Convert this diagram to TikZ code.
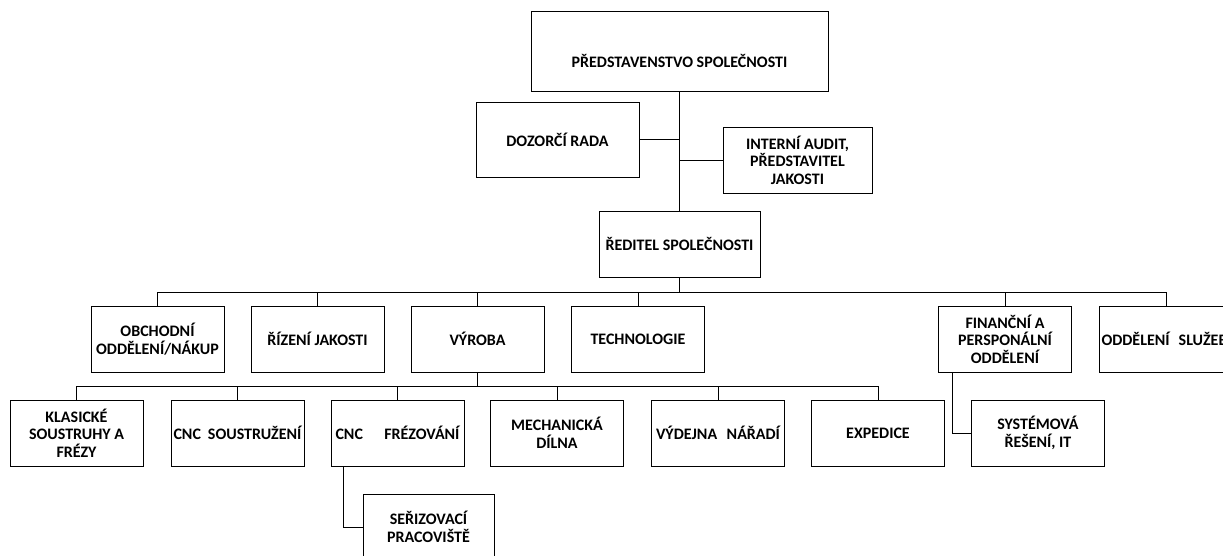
\documentclass[tikz,border=0pt]{standalone}
\usepackage{fontspec}
\setmainfont{Carlito}
\usetikzlibrary{calc}
\tikzset{
  orgbox/.style={draw,line width=0.9pt,minimum width=133pt,minimum height=66pt,inner sep=1pt,align=center},
  orgline/.style={line width=0.8pt}
}
\begin{document}
\begin{tikzpicture}[x=1pt,y=-1pt,font=\fontsize{16}{17.5}\selectfont\bfseries]
                \useasboundingbox (0,0) rectangle (1223,555);
                \node[orgbox,minimum width=297pt,minimum height=80pt,label={[yshift=-10pt]center:PŘEDSTAVENSTVO SPOLEČNOSTI}] (board) at (679.5,51) {};
                \node[orgbox,minimum width=163pt,minimum height=75pt] (dozor) at (557.5,139.5) {DOZORČÍ RADA};
                \node[orgbox,minimum width=149pt] (audit) at (797.5,160) {INTERNÍ AUDIT,\\PŘEDSTAVITEL\\JAKOSTI};
                \node[orgbox,minimum width=161pt] (reditel) at (679.5,244) {ŘEDITEL SPOLEČNOSTI};
                \coordinate (bus2) at (679.5,292);
                \coordinate (bus3) at (477.5,386);
                \node[orgbox] (obchod) at (157.5,339) {OBCHODNÍ\\ODDĚLENÍ/NÁKUP};
                \node[orgbox] (rizeni) at (317.5,339) {ŘÍZENÍ JAKOSTI};
                \node[orgbox] (vyroba) at (477.5,339) {VÝROBA};
                \node[orgbox] (techno) at (638,339) {TECHNOLOGIE};
                \node[orgbox] (financni) at (1005,339) {FINANČNÍ A\\PERSPONÁLNÍ\\ODDĚLENÍ};
                \node[orgbox,align=left,text width=129pt] (sluzby) at (1166,339) {\mbox{ODDĚLENÍ\hspace{9pt}SLUŽEB}};
                \node[orgbox] (klasicke) at (76.5,433) {KLASICKÉ\\SOUSTRUHY A\\FRÉZY};
                \node[orgbox] (cncsoustr) at (237.5,433) {CNC\hspace{7pt}SOUSTRUŽENÍ};
                \node[orgbox] (cncfrez) at (397.5,433) {\makebox[124pt]{CNC\hfill FRÉZOVÁNÍ}};
                \node[orgbox] (mechan) at (557,433) {MECHANICKÁ\\DÍLNA};
                \node[orgbox] (vydejna) at (718,433) {\makebox[124pt]{VÝDEJNA\hfill NÁŘADÍ}};
                \node[orgbox] (expedice) at (878,433) {EXPEDICE};
                \node[orgbox] (system) at (1038,433) {SYSTÉMOVÁ\\ŘEŠENÍ, IT};
                \node[orgbox,minimum width=131pt] (serizovaci) at (428.5,527) {SEŘIZOVACÍ\\PRACOVIŠTĚ};
                \draw[orgline] (board.south) -- (reditel.north);
                \draw[orgline] (dozor.east) -- (dozor.east -| board.south);
                \draw[orgline] (audit.west) -- (audit.west -| board.south);
                \draw[orgline] (reditel.south) -- (bus2);
                \foreach \n in {obchod,rizeni,vyroba,techno,financni,sluzby}
                {
                \draw[orgline] (bus2) -| (\n.north);
                }
                \draw[orgline] (vyroba.south) -- (bus3);
                \foreach \n in {klasicke,cncsoustr,cncfrez,mechan,vydejna,expedice}
                {
                \draw[orgline] (bus3) -| (\n.north);
                }
                \draw[orgline] ([xshift=-53pt]financni.south) |- (system.west);
                \draw[orgline] ([xshift=-54pt]cncfrez.south) |- (serizovaci.west);
            \end{tikzpicture}
\end{document}
